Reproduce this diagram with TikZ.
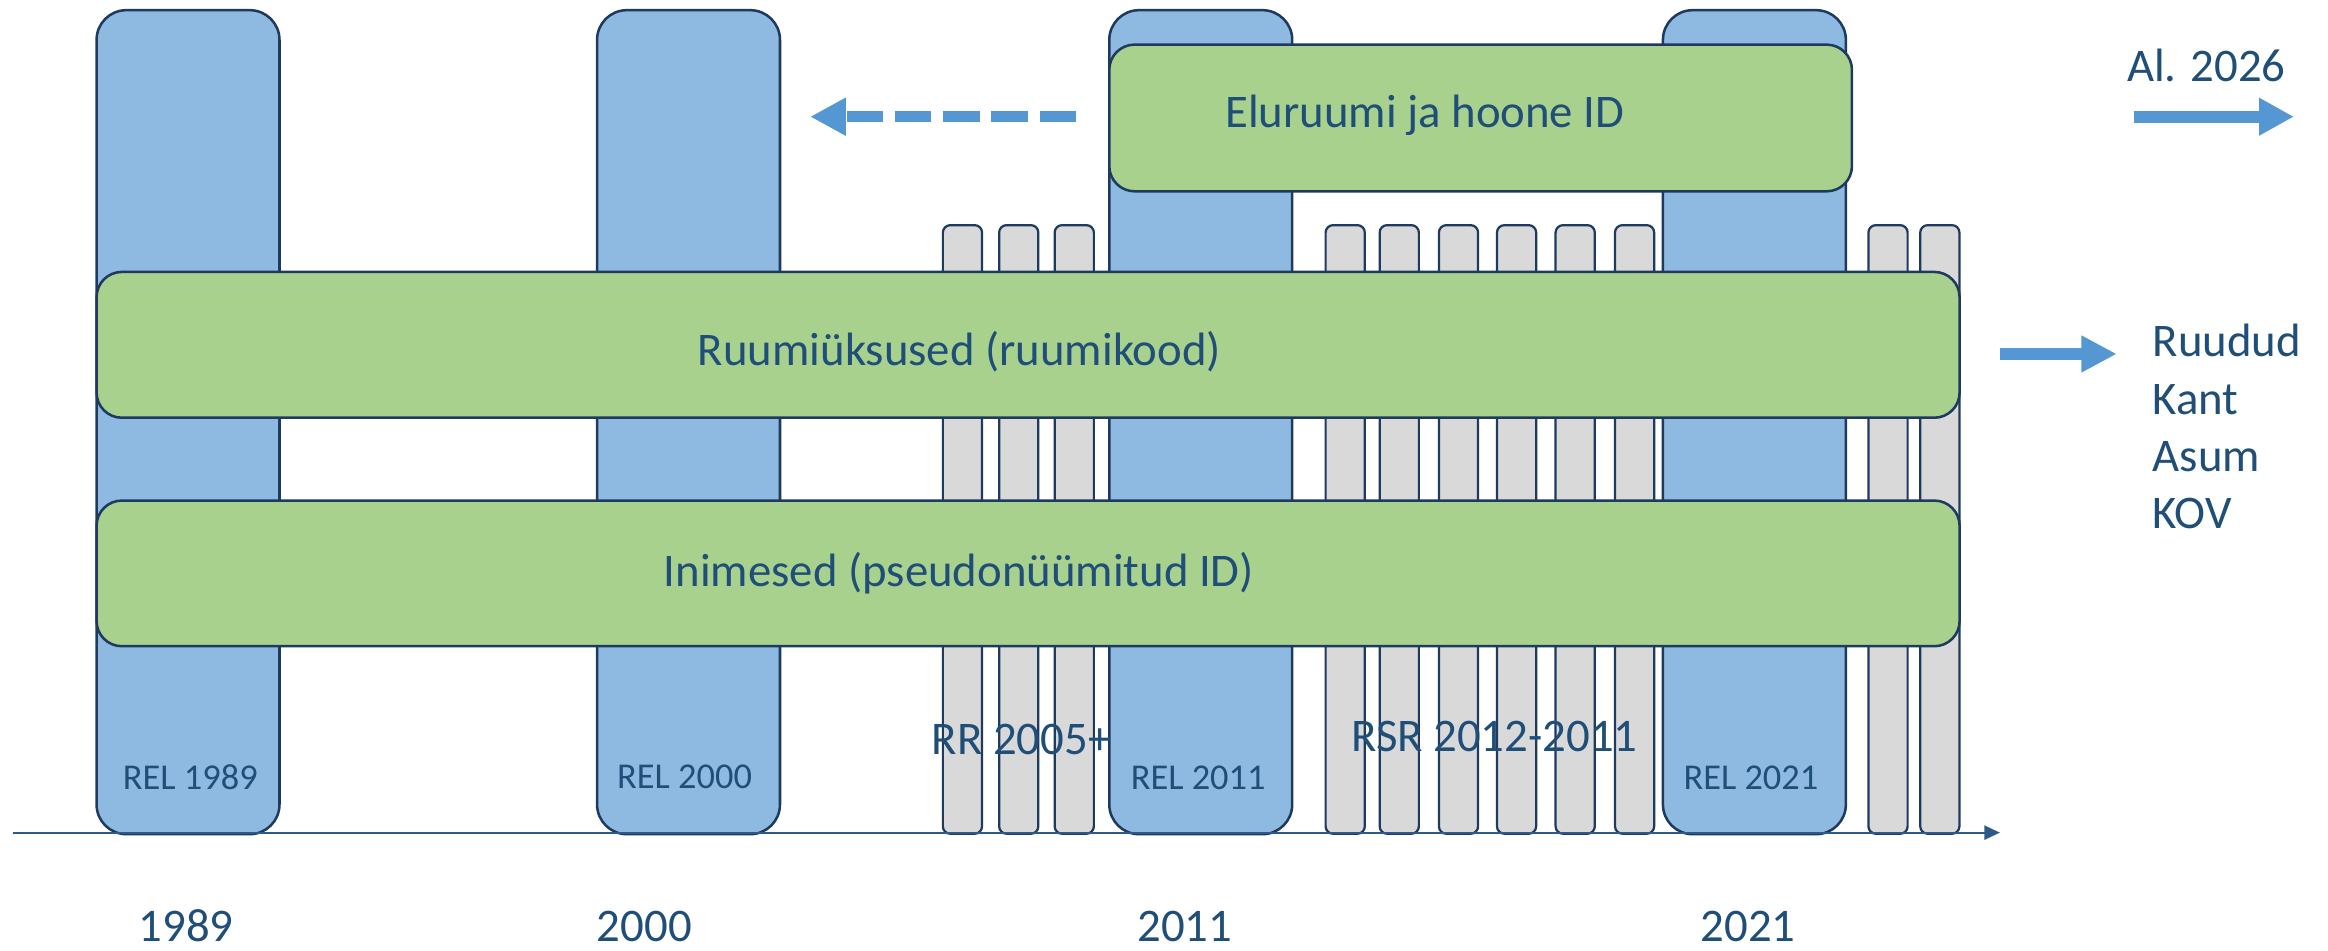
\documentclass[tikz,border=0pt]{standalone}
\usepackage{fontspec}
\setmainfont{Carlito}
\usetikzlibrary{arrows.meta}
\definecolor{barblue}{HTML}{8EBAE2}
\definecolor{boxgreen}{HTML}{A9D18E}
\definecolor{bargray}{HTML}{D9D9D9}
\definecolor{edgeblue}{HTML}{1F3A5F}
\definecolor{txtblue}{HTML}{1F4E79}
\definecolor{arrowblue}{HTML}{5597D3}
\definecolor{axisblue}{HTML}{2E5A88}
\begin{document}
\begin{tikzpicture}[x=1pt,y=-1pt,
  relbar/.style={draw=edgeblue, line width=1.7pt, fill=barblue, rounded corners=20pt,
    inner sep=0pt, anchor=north west, minimum width=123.2pt, minimum height=555pt},
  graybar/.style={draw=edgeblue, line width=1.5pt, fill=bargray, rounded corners=5pt,
    inner sep=0pt, anchor=north west, minimum width=26.4pt, minimum height=409.9pt},
  greenbox/.style={draw=edgeblue, line width=1.7pt, fill=boxgreen, rounded corners=17pt,
    inner sep=0pt, anchor=north west},
  bigtxt/.style={text=txtblue, inner sep=0pt, font=\fontsize{31.5pt}{38pt}\selectfont},
  reltxt/.style={text=txtblue, inner sep=0pt, font=\fontsize{24.5pt}{30pt}\selectfont, anchor=base},
  blockarrow/.style={draw=arrowblue, line width=8.2pt},
]
\useasboundingbox (0,0) rectangle (1568,640);

% census bars
\node[relbar] (rel89) at (64.2,6) {};
\node[relbar] (rel00) at (401.3,6) {};
\node[relbar] (rel11) at (746.3,6) {};
\node[relbar] (rel21) at (1119.2,6) {};

% register bars
\foreach \gx [count=\gi] in {634.3,672.2,709.6,892.1,928.5,968.4,1007.5,1047,1087,1257.7,1292.6}
  \node[graybar] (g\gi) at (\gx,150.9) {};

% axis
\coordinate (ax0) at (8.5,560.8);
\coordinate (ax1) at (1347,560.8);
\draw[axisblue, line width=1.4pt, -{Triangle[length=10.5pt,width=9.5pt]}] (ax0) -- (ax1);

% green boxes
\node[greenbox, minimum width=500.2pt, minimum height=98.8pt] (eluruum) at (746.3,29.2) {};
\node[greenbox, minimum width=1254.8pt, minimum height=98.2pt] (ruum) at (64.2,182.3) {};
\node[greenbox, minimum width=1254.8pt, minimum height=98.1pt] (inim) at (64.2,336.3) {};

% box texts
\node[bigtxt, anchor=base west] (teluruum) at (825,86) {Eluruumi ja hoone ID};
\node[bigtxt, anchor=base] (truum) at (646.2,246.3) {Ruumiüksused (ruumikood)};
\node[bigtxt, anchor=base] (tinim) at (645.9,395.1) {Inimesed (pseudonüümitud ID)};

% REL labels
\node[reltxt] (l89) at (128.2,531.6) {REL 1989};
\node[reltxt] (l00) at (461.1,530.8) {REL 2000};
\node[reltxt] (l11) at (807,531.6) {REL 2011};
\node[reltxt] (l21) at (1179.3,531.6) {REL 2021};

% register labels
\node[bigtxt, anchor=base west] (rr) at (627.4,508.1) {RR 2005+};
\node[bigtxt, anchor=base west] (rsr) at (910,506.3) {RSR 2012-2011};

% years
\node[bigtxt, anchor=base] (y89) at (125.3,634.2) {1989};
\node[bigtxt, anchor=base] (y00) at (434,634.2) {2000};
\node[bigtxt, anchor=base] (y11) at (798,634.2) {2011};
\node[bigtxt, anchor=base] (y21) at (1177.4,634.2) {2021};

% dashed arrow to the past
\coordinate (da0) at (724.8,78.6);
\coordinate (da1) at (545.7,78.6);
\draw[draw=arrowblue, line width=7.8pt, dash pattern=on 24.6pt off 7.9pt,
  -{Triangle[length=24pt,width=24pt]}] (da0) -- (da1);

% future arrow
\node[bigtxt, anchor=base west] (al) at (1432.5,54.9) {Al. 2026};
\coordinate (fa0) at (1437.3,78.6);
\coordinate (fa1) at (1545,78.6);
\draw[blockarrow, -{Triangle[length=23.4pt,width=23.8pt]}] (fa0) -- (fa1);

% output arrow
\coordinate (oa0) at (1347.2,238.4);
\coordinate (oa1) at (1425.7,238.4);
\draw[blockarrow, -{Triangle[length=23.8pt,width=23.2pt]}] (oa0) -- (oa1);

\node[bigtxt, anchor=base west] (ruudud) at (1449.8,240.2) {Ruudud};
\node[bigtxt, anchor=base west] (kant) at (1449.8,279.2) {Kant};
\node[bigtxt, anchor=base west] (asum) at (1449.8,317.8) {Asum};
\node[bigtxt, anchor=base west] (kov) at (1449.8,356.2) {KOV};
\end{tikzpicture}
\end{document}
